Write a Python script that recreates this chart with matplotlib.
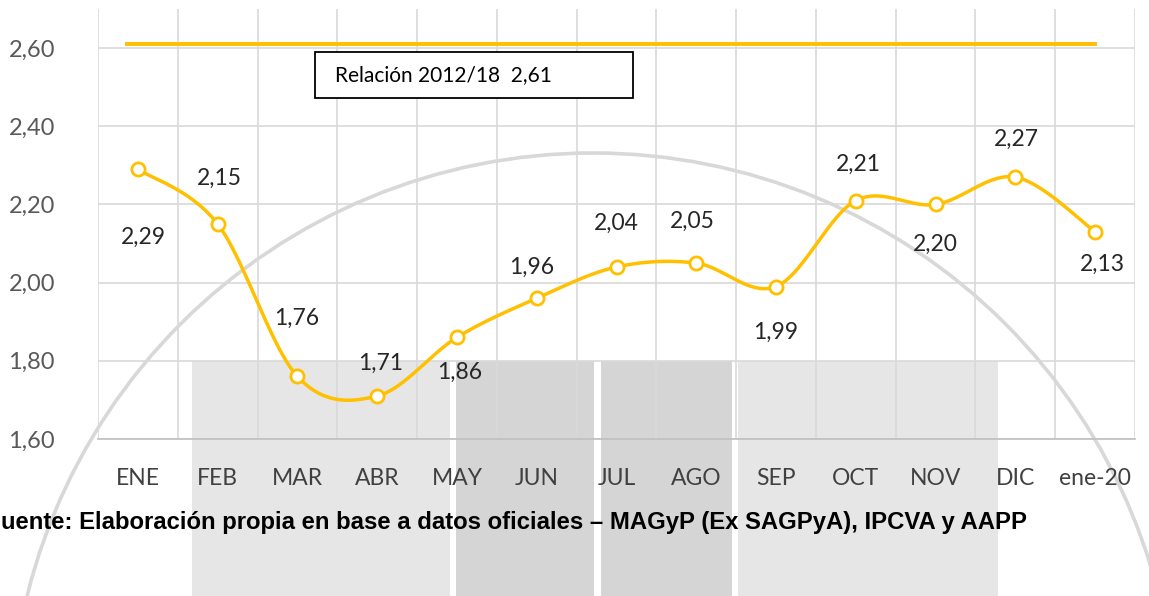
import numpy as np
import matplotlib
matplotlib.use("Agg")
import matplotlib.pyplot as plt
from matplotlib.patches import Rectangle, Circle

# ---------------- data ----------------
categories = ["ENE", "FEB", "MAR", "ABR", "MAY", "JUN", "JUL", "AGO",
              "SEP", "OCT", "NOV", "DIC", "ene-20"]
values = [2.29, 2.15, 1.76, 1.71, 1.86, 1.96, 2.04, 2.05, 1.99, 2.21, 2.20, 2.27, 2.13]
label_text = ["2,29", "2,15", "1,76", "1,71", "1,86", "1,96", "2,04", "2,05",
              "1,99", "2,21", "2,20", "2,27", "2,13"]
reference_value = 2.61
reference_label = "Relación 2012/18  2,61"
yticks = [1.60, 1.80, 2.00, 2.20, 2.40, 2.60]
ytick_labels = ["1,60", "1,80", "2,00", "2,20", "2,40", "2,60"]
source_text = "uente: Elaboración propia en base a datos oficiales – MAGyP (Ex SAGPyA), IPCVA y AAPP"

# label placement offsets (pixels: dx, dy up)
label_dx = [5, 2, -1, 3, 3, -5, 0, -4, 0, 3, 0, 1, 7]
label_dy = [-68, 46, 58, 33, -35, 31, 44, 42, -46, 36, -40, 38, -33]

W, H = 1149, 596
fig = plt.figure(figsize=(W / 100, H / 100), dpi=100)
fig.patch.set_facecolor("white")


def fx(px):
    return px / W


def fy(py):
    return 1 - py / H


# ---------------- background watermark ----------------
bg = [(192, 450, "#E6E6E6"), (456, 594, "#D5D5D5"), (601, 732, "#D5D5D5"), (738, 998, "#E6E6E6")]
for x0, x1, c in bg:
    fig.patches.append(Rectangle((fx(x0), 0), fx(x1) - fx(x0), fy(361), transform=fig.transFigure,
                                 facecolor=c, edgecolor="none", zorder=0))

# ---------------- axes ----------------
ax = fig.add_axes([fx(98), fy(439), fx(1135) - fx(98), fy(9) - fy(439)])
ax.set_facecolor("none")
ax.set_zorder(2)
n = len(categories)
x = np.arange(n)
ax.set_xlim(-0.5, n - 0.5)
ax.set_ylim(1.6, 2.7)

ov = fig.add_axes([0, 0, 1, 1], zorder=1)
ov.set_xlim(0, W)
ov.set_ylim(H, 0)
ov.axis("off")
ov.set_facecolor("none")
ov.add_patch(Circle((593, 736), 583, facecolor="none", edgecolor="#D8D8D8", lw=2.6))

ax.set_yticks(yticks)
ax.set_yticklabels(ytick_labels)
ax.set_xticks(x)
ax.set_xticklabels(categories)
ax.set_xticks(np.arange(-0.5, n, 1.0), minor=True)
ax.grid(True, axis="y", color="#D9D9D9", lw=1.2)
ax.grid(True, axis="x", which="minor", color="#D9D9D9", lw=1.2)
ax.grid(False, axis="x", which="major")
for s in ["top", "left", "right"]:
    ax.spines[s].set_visible(False)
ax.spines["bottom"].set_color("#BFBFBF")
ax.spines["bottom"].set_linewidth(1.2)
ax.tick_params(axis="both", which="both", length=0)
ax.tick_params(axis="y", pad=31, labelsize=17, labelcolor="#595959")
ax.tick_params(axis="x", pad=21, labelsize=16.5, labelcolor="#404040")
for lab in ax.get_xticklabels() + ax.get_yticklabels():
    lab.set_fontfamily("Lato")

# smooth curve (Excel-like bezier through the points, computed in pixel space)
sx, sy = 79.77, 391.0
pts = np.column_stack([x * sx, np.array(values) * sy])
curve = []
tt = np.linspace(0, 1, 40)
for i in range(n - 1):
    p0 = pts[i - 1] if i > 0 else pts[i]
    p1 = pts[i]
    p2 = pts[i + 1]
    p3 = pts[i + 2] if i + 2 < n else pts[i + 1]
    c1 = p1 + (p2 - p0) / 6
    c2 = p2 - (p3 - p1) / 6
    for t in (tt[:-1] if i < n - 2 else tt):
        b = ((1 - t) ** 3) * p1 + 3 * ((1 - t) ** 2) * t * c1 + 3 * (1 - t) * t ** 2 * c2 + t ** 3 * p2
        curve.append(b)
curve = np.array(curve)
ax.plot(curve[:, 0] / sx, curve[:, 1] / sy, color="#FFC000", lw=2.5, zorder=3, solid_capstyle="round")
ax.plot(x, values, ls="none", marker="o", ms=9.5, mfc="white", mec="#FFC000", mew=2, zorder=4)

# reference line
ax.plot([-0.14, n - 1], [reference_value, reference_value], color="#FFC000", lw=2.8, zorder=3)

# reference text box
ax.add_patch(Rectangle(((315 - 98) / (1135 - 98), (439 - 98) / (439 - 9)),
                       (633 - 315) / (1135 - 98), (98 - 52) / (439 - 9),
                       transform=ax.transAxes, facecolor="white", edgecolor="black", lw=1.3, zorder=5))
ax.text((335 - 98) / (1135 - 98), (439 - 75) / (439 - 9), reference_label, transform=ax.transAxes,
        ha="left", va="center", fontsize=15, fontfamily="Lato", color="#000000", zorder=6)

# data labels
for i, (v, t) in enumerate(zip(values, label_text)):
    ax.annotate(t, (x[i], v), xytext=(label_dx[i] * 0.72, label_dy[i] * 0.72), textcoords="offset points",
                ha="center", va="center", fontsize=16.5, fontfamily="Lato", color="#262626", zorder=6)

# source
fig.text(fx(1), fy(522), source_text, ha="left", va="center", fontsize=17.2,
         fontweight="bold", fontfamily="Liberation Sans", color="black")

fig.savefig("out.png", dpi=100)
